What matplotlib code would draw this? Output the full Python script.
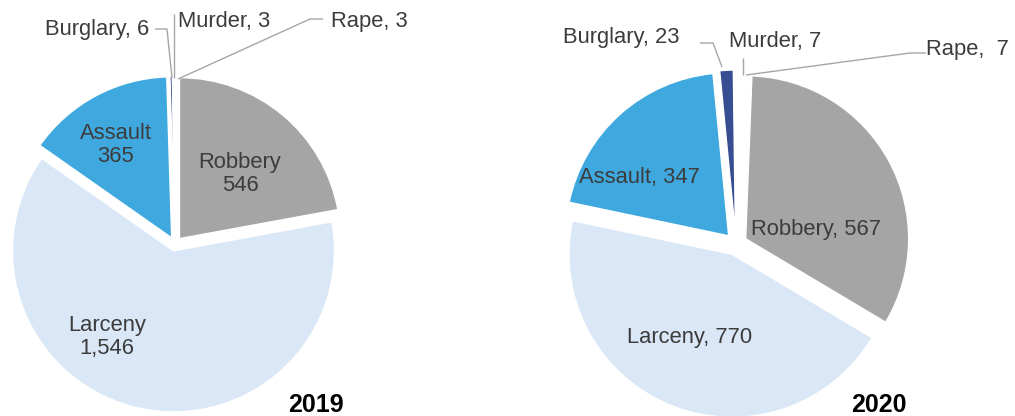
import matplotlib.pyplot as plt

plt.rcParams['font.family'] = ['Liberation Sans', 'DejaVu Sans']

# data (clockwise from the top)
cats = ['Burglary', 'Murder', 'Rape', 'Robbery', 'Larceny', 'Assault']
v2019 = [6, 3, 3, 546, 1546, 365]
v2020 = [23, 7, 7, 567, 770, 347]
cols = ['#374E92', 'white', 'white', '#A5A5A5', '#DAE7F6', '#3FA9DF']

W, H = 1015, 416
fig = plt.figure(figsize=(W/100, H/100), dpi=100)
ax = fig.add_axes([0, 0, 1, 1])

def py(y): return H - y  # pixel row -> data y

def pie(vals, cx, cy, r, expl, start):
    # explode is an absolute offset in matplotlib, here in pixels
    ax.pie(vals, colors=cols, center=(cx, py(cy)), radius=r, startangle=start,
           counterclock=False, explode=[expl]*len(vals),
           wedgeprops=dict(edgecolor='white', linewidth=1))

# start angle so Robbery begins just right of 12 o'clock
s19 = 90 + sum(v2019[:3]) / sum(v2019) * 360
s20 = 87.8 + sum(v2020[:3]) / sum(v2020) * 360
pie(v2019, 175, 244, 161, 7, s19)
pie(v2020, 736, 244, 163, 11, s20)

ax.set_xlim(0, W); ax.set_ylim(0, H); ax.set_aspect('auto'); ax.axis('off')

tc = '#3C3C3C'; fs = 15.8
def lab(x, y, s, **kw):
    ax.text(x, py(y), s, ha=kw.pop('ha', 'center'), va='center', color=tc, fontsize=fs,
            linespacing=1.1, **kw)

# 2019 labels
lab(116, 145, f'{cats[5]}\n{v2019[5]:,}')
lab(240, 174, f'{cats[3]}\n{v2019[3]:,}')
lab(107, 337, f'{cats[4]}\n{v2019[4]:,}')
lab(149, 29, f'{cats[0]}, {v2019[0]}', ha='right')
lab(178, 21, f'{cats[1]}, {v2019[1]}', ha='left')
lab(331, 21, f'{cats[2]}, {v2019[2]}', ha='left')

# 2020 labels
lab(639, 178, f'{cats[5]}, {v2020[5]}')
lab(816, 230, f'{cats[3]}, {v2020[3]}')
lab(690, 337, f'{cats[4]}, {v2020[4]:,}')
lab(680, 38, f'{cats[0]}, {v2020[0]}', ha='right')
lab(729, 42, f'{cats[1]}, {v2020[1]}', ha='left')
lab(926, 49, f'{cats[2]},  {v2020[2]}', ha='left')

# leader lines
lc = '#A6A6A6'
def lead(xs, ys):
    ax.plot(xs, [py(y) for y in ys], color=lc, lw=1, solid_capstyle='butt')
lead([155, 167, 172], [29, 29, 78])
lead([174, 174], [14, 78])
lead([323, 310, 178], [19, 19, 79])
lead([700, 713, 722], [43, 43, 67])
lead([743, 743], [58, 75])
lead([926, 910, 746], [53, 53, 75])

# years
ax.text(316, py(405), '2019', ha='center', va='center', fontsize=18, fontweight='bold', color='black')
ax.text(879, py(405), '2020', ha='center', va='center', fontsize=18, fontweight='bold', color='black')

fig.savefig('out.png', dpi=100, facecolor='white')
